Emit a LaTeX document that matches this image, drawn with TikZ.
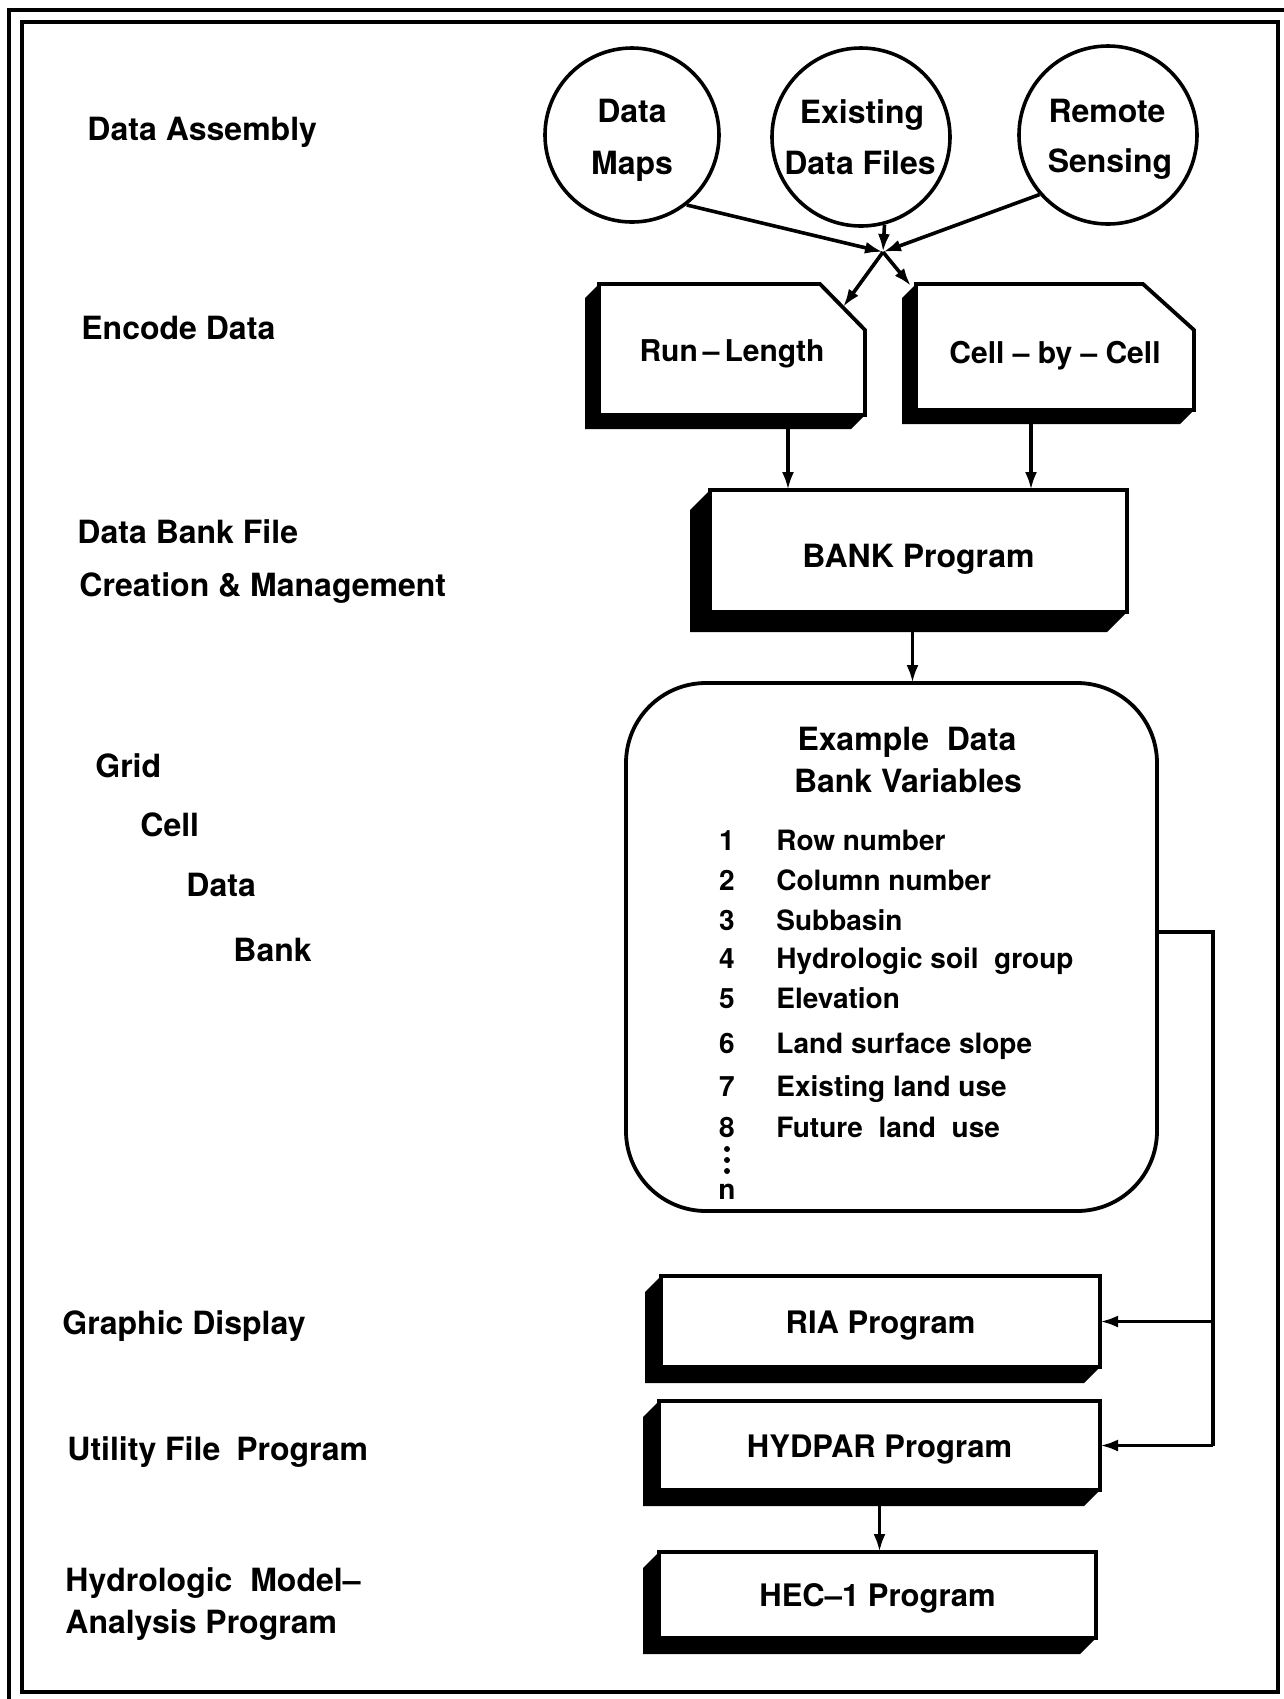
\documentclass[tikz,border=0pt]{standalone}
\usepackage{fontspec}
\setmainfont{TeX Gyre Heros}
\usetikzlibrary{arrows.meta,calc}
\newcommand\myshadow[2]{\fill (#1.north west) -- ++(-#2,#2) -- ($(#1.south west)+(-#2,#2)$) -- ($(#1.south east)+(-#2,#2)$) -- (#1.south east) -- (#1.south west) -- cycle;}
\begin{document}
\begin{tikzpicture}[x=0.5pt,y=-0.5pt,
  lbl/.style={anchor=base west, inner sep=0pt, font=\bfseries\fontsize{16}{19}\selectfont},
  ctr/.style={anchor=base, inner sep=0pt, font=\bfseries\fontsize{16}{19}\selectfont},
  circ/.style={circle, draw, line width=1.8pt, inner sep=0pt},
  prog/.style={draw, line width=1.9pt, inner sep=0pt, outer sep=0pt, text height=11.5pt, text depth=0pt, font=\bfseries\fontsize{15.5}{19}\selectfont},
  cardtxt/.style={inner sep=0pt, outer sep=0pt, text height=12pt, text depth=0pt, font=\bfseries\fontsize{15}{18}\selectfont},
  cardline/.style={line width=1.9pt, line join=miter},
  item/.style={anchor=base west, inner sep=0pt, font=\bfseries\fontsize{14}{17}\selectfont},
  num/.style={anchor=base, inner sep=0pt, font=\bfseries\fontsize{14}{17}\selectfont},
  arr/.style={line width=1.8pt, -{Latex[length=9pt,width=6pt]}},
  wire/.style={line width=1.8pt},
  frame/.style={line width=1.9pt}
]
\useasboundingbox (0,0) rectangle (1284,1699);

% frame
\draw[frame] (9,1699) -- (9,10) -- (1284,10);
\draw[frame] (22,22) rectangle (1278,1692);

% left labels
\node[lbl] (la1) at (87,140) {Data Assembly};
\node[lbl] (la2) at (81,339) {Encode Data};
\node[lbl] (la3) at (77,543) {Data Bank File};
\node[lbl] (la4) at (79,596) {Creation \& Management};
\node[lbl] (la5) at (95,777) {Grid};
\node[lbl] (la6) at (140,836) {Cell};
\node[lbl] (la7) at (186,896) {Data};
\node[lbl] (la8) at (233,961) {Bank};
\node[lbl] (la9) at (62,1334) {Graphic Display};
\node[lbl] (la10) at (67,1460) {Utility File\hspace{0.5em}Program};
\node[lbl] (la11) at (65,1591) {Hydrologic\ \ Model--};
\node[lbl] (la12) at (65,1633) {Analysis Program};

% source circles
\node[circ, minimum size=87pt] (dm) at (632,135) {};
\node[circ, minimum size=89pt] (ef) at (861,137) {};
\node[circ, minimum size=89pt] (rs) at (1108,135) {};
\node[ctr] (dm1) at (632,122) {Data};
\node[ctr] (dm2) at (632,174) {Maps};
\node[ctr] (ef1) at (862,123) {Existing};
\node[ctr] (ef2) at (860,174) {Data Files};
\node[ctr] (rs1) at (1107,122) {Remote};
\node[ctr] (rs2) at (1110,172) {Sensing};

\coordinate (J) at (883,252);
\draw[arr] (dm.-52) -- (J);
\draw[arr] (ef.-75) -- (J);
\draw[arr] (rs.-139) -- (J);

% encode cards
\node[cardtxt, minimum width=133pt, minimum height=65.5pt] (rl) at (732,349.5) {Run\,–\,Length};
\myshadow{rl}{14}
\draw[cardline] (rl.south west) -- (rl.north west) -- ($(rl.north east)+(-45,0)$) -- ($(rl.north east)+(0,46)$) -- (rl.south east) -- cycle;

\node[cardtxt, text height=16pt, minimum width=139pt, minimum height=63pt] (cc) at (1055,347) {Cell – by – Cell};
\myshadow{cc}{14}
\draw[cardline] (cc.south west) -- (cc.north west) -- ($(cc.north east)+(-51,0)$) -- ($(cc.north east)+(0,46)$) -- (cc.south east) -- cycle;

\draw[arr] (J) -- ($(rl.north east)+(-22,23)$);
\draw[arr] (J) -- ($(cc.north west)+(-5,2)$);

% bank program
\node[prog, text height=16pt, minimum width=208.5pt, minimum height=61pt, font=\bfseries\fontsize{16}{19}\selectfont] (bank) at (918.5,551) {BANK Program};
\myshadow{bank}{20}

\draw[arr] ([xshift=28pt]rl.south) -- ([xshift=28pt]rl.south |- bank.north);
\draw[arr] ([xshift=-12pt]cc.south) -- ([xshift=-12pt]cc.south |- bank.north);

% variables box
\node[draw, line width=1.9pt, rounded corners=40pt, minimum width=265.5pt, minimum height=264pt, inner sep=0pt, outer sep=0pt] (vb) at (891.5,947) {};
\draw[arr] ([xshift=-3pt]bank.south) -- ([xshift=-3pt]bank.south |- vb.north);

\node[ctr] (t1) at (907,750) {Example\ \ Data};
\node[ctr] (t2) at (908,792) {Bank Variables};

\foreach \k/\yy/\tt in {1/850/Row number, 2/890/Column number, 3/930/Subbasin, 4/968/Hydrologic soil\ \ group, 5/1008/Elevation, 6/1053/Land surface slope, 7/1096/Existing land use, 8/1137/Future\ \ land\ \ use}{
  \node[num] (n\k) at (727,\yy) {\k};
  \node[item] (v\k) at (776,\yy) {\tt};
}
\fill (727,1149) circle[radius=1.5pt];
\fill (727,1160) circle[radius=1.5pt];
\fill (727,1171) circle[radius=1.5pt];
\node[num] (nn) at (727,1199) {n};

% lower programs
\node[prog, minimum width=219.5pt, minimum height=45.5pt] (ria) at (880.5,1321.5) {RIA Program};
\myshadow{ria}{16}
\node[prog, minimum width=220.5pt, minimum height=44.5pt] (hyd) at (879.5,1445.5) {HYDPAR Program};
\myshadow{hyd}{16}
\node[prog, minimum width=218.5pt, minimum height=43pt] (hec) at (877.5,1595) {HEC--1 Program};
\myshadow{hec}{16}

\coordinate (bus) at (1213,932);
\draw[wire] ([yshift=7.5pt]vb.east) -- (bus) -- (bus |- hyd.east);
\draw[arr] (bus |- ria.east) -- (ria.east);
\draw[arr] (bus |- hyd.east) -- (hyd.east);
\draw[arr] (hyd.south) -- (hyd.south |- hec.north);
\end{tikzpicture}
\end{document}
